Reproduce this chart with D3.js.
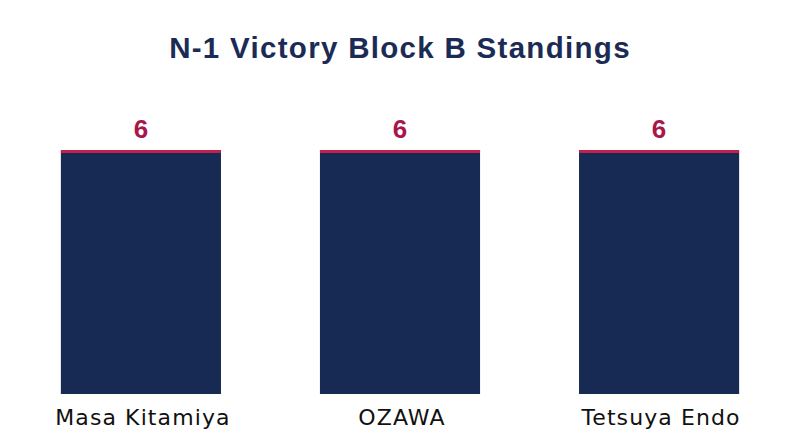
<!DOCTYPE html>
<html>
<head>
<meta charset="utf-8">
<script src="https://cdn.jsdelivr.net/npm/d3@7"></script>
<style>
  body { margin: 0; background: #ffffff; }
</style>
</head>
<body>
<div id="chart"></div>
<script>
// data
var wrestlers = ["Masa Kitamiya", "OZAWA", "Tetsuya Endo"];
var points = [6, 6, 6];
var chartTitle = "N-1 Victory Block B Standings";

var svgWidth = 800;
var svgHeight = 447;

var svg = d3.select("#chart")
  .append("svg")
  .attr("width", svgWidth)
  .attr("height", svgHeight);

svg.append("rect")
  .attr("width", svgWidth)
  .attr("height", svgHeight)
  .attr("fill", "#ffffff");

// scales
var x = d3.scaleBand()
  .domain(wrestlers)
  .range([22, 778])
  .paddingInner(0.382)
  .paddingOuter(0.15);

var y = d3.scaleLinear()
  .domain([0, 6])
  .range([394, 150.5]);

var rows = wrestlers.map(function (w, i) {
  return { name: w, value: points[i] };
});

// title
svg.append("text")
  .attr("x", svgWidth / 2)
  .attr("y", 58)
  .attr("text-anchor", "middle")
  .style("font-family", "'Liberation Sans', Arial, sans-serif")
  .style("font-weight", "bold")
  .style("font-size", "29.5px")
  .style("letter-spacing", "1.3px")
  .style("fill", "#1b2b55")
  .text(chartTitle);

// bars
svg.append("g")
  .selectAll("rect")
  .data(rows)
  .enter()
  .append("rect")
  .attr("x", function (d) { return x(d.name); })
  .attr("y", function (d) { return y(d.value); })
  .attr("width", x.bandwidth())
  .attr("height", function (d) { return y(0) - y(d.value); })
  .attr("fill", "#172a54");

// red cap on top of each bar
svg.append("g")
  .selectAll("rect")
  .data(rows)
  .enter()
  .append("rect")
  .attr("x", function (d) { return x(d.name); })
  .attr("y", function (d) { return y(d.value) - 0.5; })
  .attr("width", x.bandwidth())
  .attr("height", 3)
  .attr("fill", "#c41f4b");

// value labels
svg.append("g")
  .selectAll("text")
  .data(rows)
  .enter()
  .append("text")
  .attr("x", function (d) { return x(d.name) + x.bandwidth() / 2; })
  .attr("y", function (d) { return y(d.value) - 13; })
  .attr("text-anchor", "middle")
  .style("font-family", "'Liberation Sans', Arial, sans-serif")
  .style("font-size", "26px")
  .style("font-weight", "bold")
  .style("fill", "#a8164a")
  .text(function (d) { return d.value; });

// category labels
svg.append("g")
  .selectAll("text")
  .data(rows)
  .enter()
  .append("text")
  .attr("x", function (d) { return x(d.name) + x.bandwidth() / 2 + 2; })
  .attr("y", 425)
  .attr("text-anchor", "middle")
  .style("font-family", "'DejaVu Sans', sans-serif")
  .style("font-size", "22px")
  .style("letter-spacing", "1.1px")
  .style("fill", "#111111")
  .text(function (d) { return d.name; });
</script>
</body>
</html>
